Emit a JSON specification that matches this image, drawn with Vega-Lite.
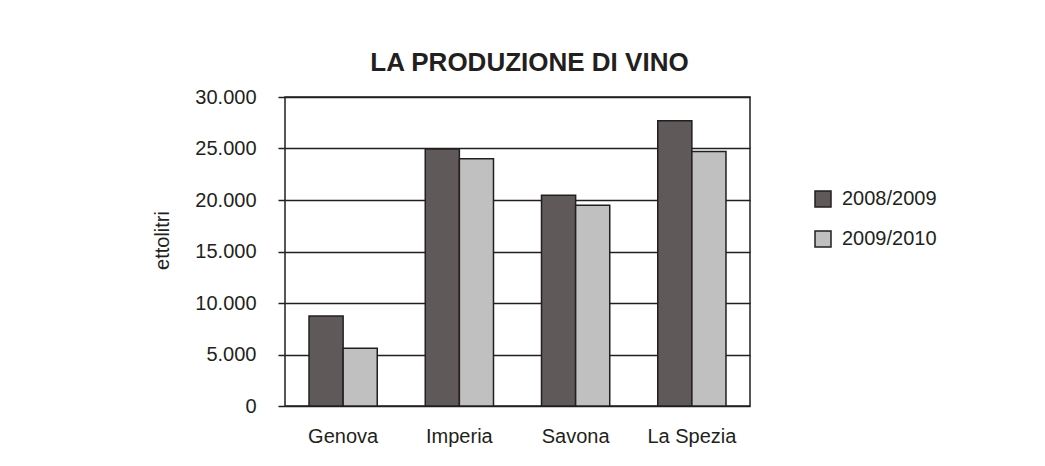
{
  "$schema": "https://vega.github.io/schema/vega-lite/v6.json",
  "autosize": {"type": "none"},
  "width": 465,
  "height": 309,
  "padding": {"left": 285, "top": 97, "right": 295, "bottom": 60},
  "background": "white",
  "config": {
    "locale": {"number": {"decimal": ",", "thousands": ".", "grouping": [3], "currency": ["€", ""]}},
    "font": "Liberation Sans",
    "view": {"stroke": "#231f20", "strokeWidth": 1.5}
  },
  "title": {
    "text": "LA PRODUZIONE DI VINO",
    "fontSize": 26,
    "fontWeight": "bold",
    "color": "#231f20",
    "font": "Liberation Sans",
    "dx": 12,
    "offset": 11
  },
  "data": {
    "values": [
      {"provincia": "Genova", "anno": "2008/2009", "ettolitri": 8750},
      {"provincia": "Genova", "anno": "2009/2010", "ettolitri": 5600},
      {"provincia": "Imperia", "anno": "2008/2009", "ettolitri": 24950},
      {"provincia": "Imperia", "anno": "2009/2010", "ettolitri": 24000},
      {"provincia": "Savona", "anno": "2008/2009", "ettolitri": 20450},
      {"provincia": "Savona", "anno": "2009/2010", "ettolitri": 19500},
      {"provincia": "La Spezia", "anno": "2008/2009", "ettolitri": 27700},
      {"provincia": "La Spezia", "anno": "2009/2010", "ettolitri": 24700}
    ]
  },
  "mark": {"type": "bar", "stroke": "#231f20", "strokeWidth": 1.5},
  "encoding": {
    "x": {
      "field": "provincia",
      "type": "nominal",
      "sort": null,
      "scale": {"paddingInner": 0.413, "paddingOuter": 0.2065},
      "axis": {
        "title": null,
        "labelAngle": 0,
        "labelFontSize": 20,
        "labelColor": "#231f20",
        "ticks": false,
        "domain": false,
        "labelPadding": 20
      }
    },
    "xOffset": {"field": "anno", "type": "nominal", "sort": null},
    "y": {
      "field": "ettolitri",
      "type": "quantitative",
      "scale": {"domain": [0, 30000], "nice": false},
      "axis": {
        "title": "ettolitri",
        "values": [0, 5000, 10000, 15000, 20000, 25000, 30000],
        "format": ",d",
        "labelFontSize": 20,
        "labelColor": "#231f20",
        "titleFontSize": 20,
        "titleFontWeight": "normal",
        "titleColor": "#231f20",
        "titlePadding": 22,
        "titleY": 143,
        "grid": true,
        "gridColor": "#231f20",
        "gridWidth": 1.5,
        "tickColor": "#231f20",
        "tickWidth": 1.5,
        "tickSize": 7,
        "labelPadding": 22,
        "domain": false
      }
    },
    "color": {
      "field": "anno",
      "type": "nominal",
      "scale": {"domain": ["2008/2009", "2009/2010"], "range": ["#5f5a59", "#c0c0c0"]},
      "legend": {
        "title": null,
        "orient": "none",
        "legendX": 528,
        "legendY": 92,
        "symbolType": "square",
        "symbolSize": 256,
        "symbolStrokeColor": "#231f20",
        "symbolStrokeWidth": 1.5,
        "labelFontSize": 20,
        "labelColor": "#231f20",
        "labelOffset": 9,
        "rowPadding": 18,
        "padding": 0
      }
    }
  }
}
